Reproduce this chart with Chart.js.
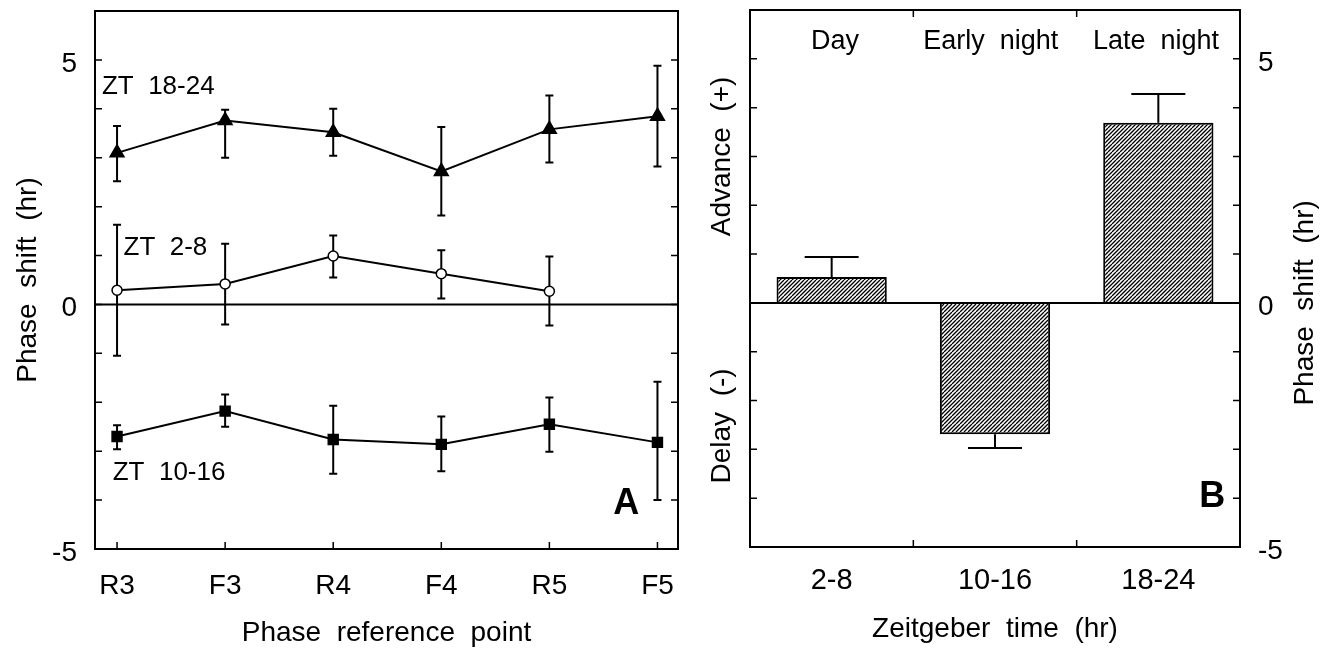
<!DOCTYPE html>
<html>
<head>
<meta charset="utf-8">
<script src="https://cdn.jsdelivr.net/npm/chart.js@4/dist/chart.umd.min.js"></script>
<style>
  html, body { margin: 0; padding: 0; background: #fff; }
  #wrap { position: relative; width: 1331px; height: 650px; }
  #boxA { position: absolute; left: 0; top: 0; width: 700px; height: 650px; }
  #boxB { position: absolute; left: 700px; top: 0; width: 631px; height: 650px; }
</style>
</head>
<body>
<div id="wrap">
  <div id="boxA"><canvas id="chartA"></canvas></div>
  <div id="boxB"><canvas id="chartB"></canvas></div>
</div>
<script>
const FONT = '"Liberation Sans", Arial, Helvetica, sans-serif';

// panel A: phase shift per phase reference point
const refPoints = ['R3', 'F3', 'R4', 'F4', 'R5', 'F5'];
const lateNight = [3.10, 3.76, 3.52, 2.72, 3.58, 3.85];
const lateNightLow = [2.52, 3.00, 3.04, 1.82, 2.90, 2.82];
const lateNightHigh = [3.65, 3.98, 4.00, 3.63, 4.27, 4.88];
const dayTime = [0.29, 0.42, 0.99, 0.63, 0.27];
const dayTimeLow = [-1.05, -0.41, 0.55, 0.12, -0.43];
const dayTimeHigh = [1.63, 1.24, 1.41, 1.11, 0.98];
const earlyNight = [-2.70, -2.18, -2.76, -2.86, -2.45, -2.82];
const earlyNightLow = [-2.96, -2.50, -3.46, -3.41, -3.01, -4.00];
const earlyNightHigh = [-2.47, -1.84, -2.07, -2.29, -1.90, -1.58];

// panel B: mean phase shift per zeitgeber time window
const ztBins = ['2-8', '10-16', '18-24'];
const ztShift = [0.53, -2.69, 3.69];
const ztErrEnd = [0.94, -2.97, 4.28];

const yTickLabels = [-5, 0, 5];

Chart.defaults.color = '#000';
Chart.defaults.font.family = FONT;
Chart.defaults.animation = false;

const toXY = arr => arr.map((v, i) => ({ x: i, y: v }));

function hatch() {
  const c = document.createElement('canvas');
  c.width = 8; c.height = 8;
  const g = c.getContext('2d');
  g.fillStyle = '#fff';
  g.fillRect(0, 0, 8, 8);
  g.strokeStyle = '#000';
  g.lineWidth = 1.3;
  g.beginPath();
  for (let k = -8; k <= 16; k += 4) {
    g.moveTo(k, 8); g.lineTo(k + 8, 0);
  }
  g.stroke();
  return g.createPattern(c, 'repeat');
}

function frameAndTicks(chart, xTickPx, topTicks) {
  const { ctx, chartArea: a, scales: { x, y } } = chart;
  ctx.save();
  ctx.strokeStyle = '#000';
  ctx.lineWidth = 1.5;
  ctx.beginPath();
  for (let v = -4; v <= 5; v++) {
    const py = y.getPixelForValue(v);
    ctx.moveTo(a.left, py); ctx.lineTo(a.left + 7, py);
    ctx.moveTo(a.right, py); ctx.lineTo(a.right - 7, py);
  }
  xTickPx.forEach(px => {
    ctx.moveTo(px, a.bottom); ctx.lineTo(px, a.bottom - 7);
    if (topTicks) { ctx.moveTo(px, a.top); ctx.lineTo(px, a.top + 7); }
  });
  ctx.stroke();
  ctx.lineWidth = 2;
  const y0 = y.getPixelForValue(0);
  ctx.beginPath();
  ctx.moveTo(a.left, y0); ctx.lineTo(a.right, y0);
  ctx.stroke();
  ctx.strokeRect(a.left, a.top, a.right - a.left, a.bottom - a.top);
  ctx.restore();
}

function label(ctx, text, px, py, font, align, rot) {
  ctx.save();
  ctx.font = font;
  ctx.fillStyle = '#000';
  ctx.textAlign = align || 'left';
  ctx.textBaseline = 'middle';
  ctx.translate(px, py);
  if (rot) ctx.rotate(rot);
  ctx.fillText(text, 0, 0);
  ctx.restore();
}

const errorBarsA = {
  id: 'errorBarsA',
  beforeDatasetsDraw(chart) {
    const { ctx, scales: { x, y } } = chart;
    ctx.save();
    ctx.strokeStyle = '#000';
    ctx.lineWidth = 2;
    ctx.beginPath();
    chart.data.datasets.forEach(ds => {
      ds.low.forEach((lo, i) => {
        const px = x.getPixelForValue(i);
        const p1 = y.getPixelForValue(lo), p2 = y.getPixelForValue(ds.high[i]);
        ctx.moveTo(px, p1); ctx.lineTo(px, p2);
        ctx.moveTo(px - 4, p1); ctx.lineTo(px + 4, p1);
        ctx.moveTo(px - 4, p2); ctx.lineTo(px + 4, p2);
      });
    });
    ctx.stroke();
    ctx.restore();
  },
  afterDatasetsDraw(chart) {
    const { ctx, scales: { x, y } } = chart;
    frameAndTicks(chart, refPoints.map((_, i) => x.getPixelForValue(i)), false);
    const f = '26px ' + FONT;
    label(ctx, 'ZT  18-24', x.getPixelForValue(-0.14), y.getPixelForValue(4.44), f);
    label(ctx, 'ZT  2-8', x.getPixelForValue(0.06), y.getPixelForValue(1.16), f);
    label(ctx, 'ZT  10-16', x.getPixelForValue(-0.04), y.getPixelForValue(-3.45), f);
    label(ctx, 'A', x.getPixelForValue(4.59), y.getPixelForValue(-4.09), 'bold 36px ' + FONT);
  }
};

const lineStyle = { borderColor: '#000', borderWidth: 2, tension: 0, pointBorderColor: '#000', pointBorderWidth: 1.5 };

const fitY = width => s => { s.width = width; s.paddingTop = 0; s.paddingBottom = 0; };

new Chart(document.getElementById('chartA'), {
  type: 'line',
  data: {
    datasets: [
      { ...lineStyle, label: 'ZT 18-24', data: toXY(lateNight), low: lateNightLow, high: lateNightHigh,
        pointStyle: 'triangle', pointRadius: 8, pointBackgroundColor: '#000' },
      { ...lineStyle, label: 'ZT 2-8', data: toXY(dayTime), low: dayTimeLow, high: dayTimeHigh,
        pointStyle: 'circle', pointRadius: 5, pointBackgroundColor: '#fff' },
      { ...lineStyle, label: 'ZT 10-16', data: toXY(earlyNight), low: earlyNightLow, high: earlyNightHigh,
        pointStyle: 'rect', pointRadius: 7, pointBackgroundColor: '#000' }
    ]
  },
  options: {
    responsive: true,
    maintainAspectRatio: false,
    layout: { padding: { left: 0, right: 22, top: 11, bottom: 0 } },
    plugins: { legend: { display: false }, tooltip: { enabled: false } },
    scales: {
      x: {
        type: 'linear', min: -0.204, max: 5.19,
        afterBuildTicks: s => { s.ticks = refPoints.map((_, i) => ({ value: i })); },
        afterFit: s => { s.height = 101; },
        border: { display: false },
        grid: { display: false },
        ticks: { autoSkip: false, maxRotation: 0, padding: 12, font: { size: 28 },
          callback: v => refPoints[v] || '' },
        title: { display: true, text: 'Phase  reference  point', font: { size: 28 }, padding: { top: 0, bottom: 0 } }
      },
      y: {
        type: 'linear', min: -5, max: 6,
        afterFit: fitY(95),
        border: { display: false },
        grid: { display: false },
        ticks: { stepSize: 1, autoSkip: false, padding: 10, labelOffset: 4, font: { size: 28 },
          callback: v => yTickLabels.includes(v) ? String(v) : '' },
        title: { display: true, text: 'Phase  shift  (hr)', font: { size: 28 }, padding: { top: 11, bottom: 0 } }
      }
    }
  },
  plugins: [errorBarsA]
});

const errorBarsB = {
  id: 'errorBarsB',
  afterDatasetsDraw(chart) {
    const { ctx, chartArea: a, scales: { x, y } } = chart;
    ctx.save();
    ctx.strokeStyle = '#000';
    ctx.lineWidth = 2;
    ctx.beginPath();
    ztShift.forEach((v, i) => {
      const px = x.getPixelForValue(i);
      const p1 = y.getPixelForValue(v), p2 = y.getPixelForValue(ztErrEnd[i]);
      ctx.moveTo(px, p1); ctx.lineTo(px, p2);
      ctx.moveTo(px - 27, p2); ctx.lineTo(px + 27, p2);
    });
    ctx.stroke();
    ctx.restore();
    const bounds = ztBins.slice(1).map((_, i) => (x.getPixelForValue(i) + x.getPixelForValue(i + 1)) / 2);
    frameAndTicks(chart, bounds, true);
    const f = '27px ' + FONT;
    const yTop = y.getPixelForValue(5.36);
    label(ctx, 'Day', x.getPixelForValue(0.02), yTop, f, 'center');
    label(ctx, 'Early  night', x.getPixelForValue(0.56), yTop, f);
    label(ctx, 'Late  night', x.getPixelForValue(1.6), yTop, f);
    label(ctx, 'B', x.getPixelForValue(2.25), y.getPixelForValue(-3.97), 'bold 36px ' + FONT);
    const tf = '28px ' + FONT;
    label(ctx, 'Advance  (+)', a.left - 28, y.getPixelForValue(3.0), tf, 'center', -Math.PI / 2);
    label(ctx, 'Delay  (-)', a.left - 28, y.getPixelForValue(-2.52), tf, 'center', -Math.PI / 2);
    label(ctx, 'Phase  shift  (hr)', a.right + 65, y.getPixelForValue(0), tf, 'center', -Math.PI / 2);
  }
};

new Chart(document.getElementById('chartB'), {
  type: 'bar',
  data: {
    labels: ztBins,
    datasets: [{
      label: 'Phase shift',
      data: ztShift,
      backgroundColor: hatch(),
      borderColor: '#000',
      borderWidth: 2,
      barPercentage: 0.675,
      categoryPercentage: 1
    }]
  },
  options: {
    responsive: true,
    maintainAspectRatio: false,
    layout: { padding: { left: 50, right: 0, top: 10, bottom: 0 } },
    plugins: { legend: { display: false }, tooltip: { enabled: false } },
    scales: {
      x: {
        afterFit: s => { s.height = 103; },
        border: { display: false },
        grid: { display: false },
        ticks: { padding: 9, maxRotation: 0, font: { size: 29 } },
        title: { display: true, text: 'Zeitgeber  time  (hr)', font: { size: 28 }, padding: { top: 0, bottom: 4 } }
      },
      y: {
        position: 'right',
        min: -5, max: 6,
        afterFit: fitY(91),
        border: { display: false },
        grid: { display: false },
        ticks: { stepSize: 1, autoSkip: false, padding: 10, labelOffset: 4, font: { size: 28 },
          callback: v => yTickLabels.includes(v) ? String(v) : '' }
      }
    }
  },
  plugins: [errorBarsB]
});
</script>
</body>
</html>
